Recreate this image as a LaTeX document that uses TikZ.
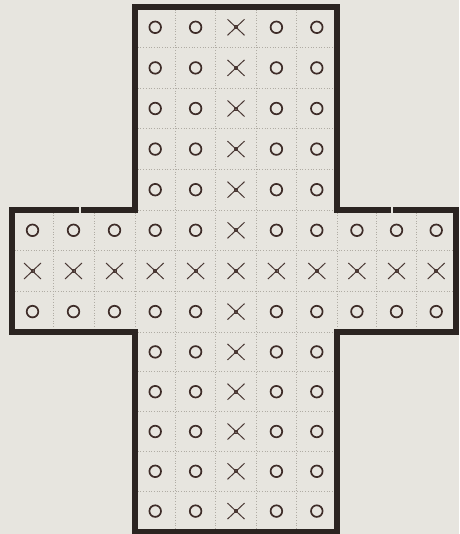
\documentclass[tikz,border=0pt]{standalone}
\usetikzlibrary{shapes.misc}
\definecolor{bg}{HTML}{E7E5DF}
\definecolor{ink}{HTML}{2B2421}
\definecolor{sym}{HTML}{3E2C28}
\definecolor{xsym}{HTML}{4A3834}
\definecolor{gridc}{HTML}{B0ACA4}
\tikzset{
 ring/.style={circle, draw=sym, line width=1.7pt, minimum size=11.6pt, inner sep=0pt},
 xmark/.style={cross out, draw=xsym, line width=1pt, minimum width=16pt, minimum height=15pt, inner sep=0pt},
 xcore/.style={rectangle, draw=xsym, line width=0.8pt, minimum size=3pt, inner sep=0pt},
 gridline/.style={draw=gridc, dotted, line width=0.7pt},
 rim/.style={draw=ink, line width=5.5pt, line join=miter},
 gap/.style={fill=bg},
}
\begin{document}
\begin{tikzpicture}[x=1pt,y=-1pt]
\useasboundingbox (0,0) rectangle (459,534);
\fill[bg] (0,0) rectangle (459,534);
% dotted cell grid
\foreach \xx in {175.4,215.8,256.2,296.6}
  \draw[gridline] (\xx,7) -- (\xx,532);
\foreach \xx in {53,94,135,337,376.7,416.3}
  \draw[gridline] (\xx,210) -- (\xx,332);
\foreach \yy in {47.6,88.2,128.8,169.4,210,332,371.8,411.6,451.4,491.2}
  \draw[gridline] (135,\yy) -- (337,\yy);
\foreach \yy in {250.7,291.3}
  \draw[gridline] (12,\yy) -- (456,\yy);
% outer rim
\draw[rim] (135,7) -- (337,7) -- (337,210) -- (456,210) -- (456,332) -- (337,332)
  -- (337,532) -- (135,532) -- (135,332) -- (12,332) -- (12,210) -- (135,210) -- cycle;
\fill[gap] (78.5,205) rectangle (81,215);
\fill[gap] (390.5,205) rectangle (393,215);
% top arm
\foreach \yy [count=\r] in {27.3,67.9,108.5,149.1,189.7} {
  \foreach \xx [count=\c from 4] in {155.2,195.6,236,276.4,316.8} {
    \ifnum\c=6
      \node[xmark] (s\r-\c) at (\xx,\yy) {};
      \node[xcore] (k\r-\c) at (\xx,\yy) {};
    \else
      \node[ring] (s\r-\c) at (\xx,\yy) {};
    \fi
  }
}
% middle band
\foreach \yy [count=\r from 6] in {230.3,271,311.6} {
  \foreach \xx [count=\c] in {32.5,73.5,114.5,155.2,195.6,236,276.4,316.8,356.9,396.5,436.2} {
    \ifnum\c=6
      \node[xmark] (s\r-\c) at (\xx,\yy) {};
      \node[xcore] (k\r-\c) at (\xx,\yy) {};
    \else
      \ifnum\r=7
        \node[xmark] (s\r-\c) at (\xx,\yy) {};
        \node[xcore] (k\r-\c) at (\xx,\yy) {};
      \else
        \node[ring] (s\r-\c) at (\xx,\yy) {};
      \fi
    \fi
  }
}
% bottom arm
\foreach \yy [count=\r from 9] in {351.9,391.7,431.5,471.3,511.1} {
  \foreach \xx [count=\c from 4] in {155.2,195.6,236,276.4,316.8} {
    \ifnum\c=6
      \node[xmark] (s\r-\c) at (\xx,\yy) {};
      \node[xcore] (k\r-\c) at (\xx,\yy) {};
    \else
      \node[ring] (s\r-\c) at (\xx,\yy) {};
    \fi
  }
}
\end{tikzpicture}
\end{document}
